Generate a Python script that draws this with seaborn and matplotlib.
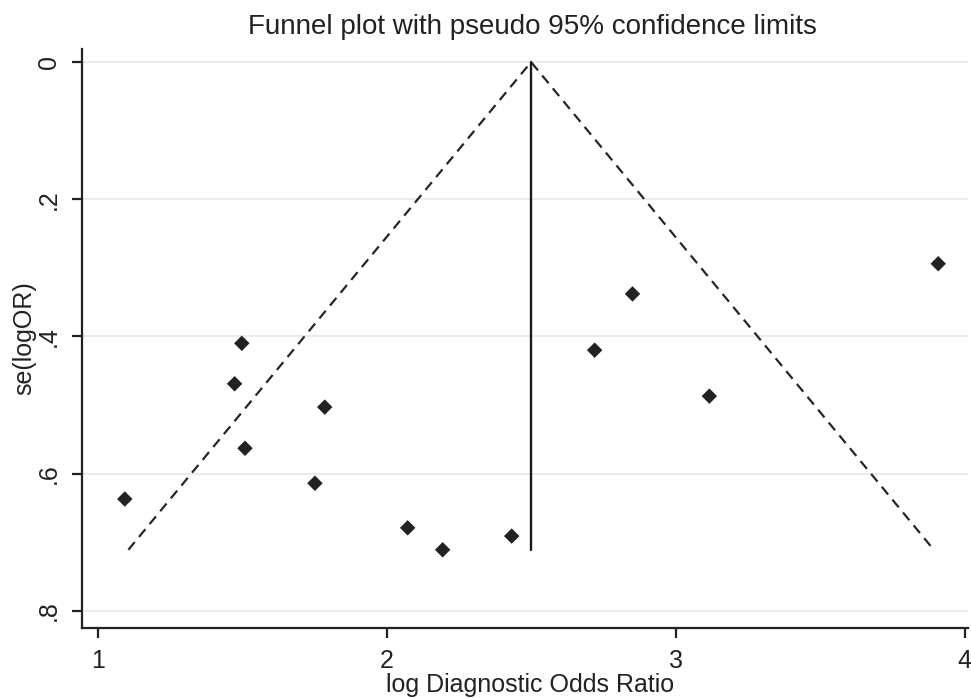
import numpy as np
import pandas as pd
import matplotlib
matplotlib.use("Agg")
import matplotlib.pyplot as plt
import seaborn as sns

# Study estimates (log DOR) and standard errors
log_dor = [1.094, 1.499, 1.474, 1.786, 1.510, 1.752, 2.073, 2.194, 2.433,
           2.720, 2.851, 3.117, 3.909]
se_log_or = [0.637, 0.410, 0.469, 0.503, 0.563, 0.614, 0.679, 0.711, 0.691,
             0.420, 0.338, 0.487, 0.294]
pooled = 2.50
z95 = 1.96
x_ticks = [1, 2, 3, 4]
y_ticks = [0, 0.2, 0.4, 0.6, 0.8]
y_ticklabels = ["0", ".2", ".4", ".6", ".8"]

df = pd.DataFrame({"x": log_dor, "se": se_log_or})
max_se = max(se_log_or)

sns.set_theme(style="white")
plt.rcParams["font.family"] = ["Liberation Sans", "DejaVu Sans"]

fig = plt.figure(figsize=(9.71, 6.98), dpi=100)
ax = fig.add_axes([82/971, 70/698, 886/971, 579/698])

# grid
for yt in y_ticks:
    ax.axhline(yt, color="#e8e8e8", lw=1.2, zorder=0)

# funnel limits
ax.plot([pooled - z95*max_se, pooled, pooled + z95*max_se], [max_se, 0, max_se],
        color="#262626", lw=1.6, dashes=(4.5, 3), zorder=2)
ax.plot([pooled, pooled], [0, max_se], color="#1a1a1a", lw=1.7, zorder=2)

sns.scatterplot(data=df, x="x", y="se", marker="D", s=62, color="#222222",
                edgecolor="none", ax=ax, zorder=3)

ax.set_xlim(0.946, 4.012)
ax.set_ylim(0.825, -0.019)

ax.set_xticks(x_ticks)
ax.set_xticklabels([str(t) for t in x_ticks])
ax.set_yticks(y_ticks)
ax.set_yticklabels(y_ticklabels, rotation=90, va="center")

for s in ["top", "right"]:
    ax.spines[s].set_visible(False)
for s in ["left", "bottom"]:
    ax.spines[s].set_color("#222222")
    ax.spines[s].set_linewidth(1.6)

ax.tick_params(axis="both", which="major", direction="out", length=7, width=1.6,
               color="#222222", labelsize=18, labelcolor="#222222", pad=8,
               left=True, bottom=True)

ax.set_xlabel("log Diagnostic Odds Ratio", fontsize=18, color="#222222")
ax.set_ylabel("se(logOR)", fontsize=18, color="#222222")
ax.xaxis.set_label_coords((530-82)/886, (628-673)/579)
ax.yaxis.set_label_coords((36-82)/886, 0.5)

fig.text(532/971, (698-27)/698, "Funnel plot with pseudo 95% confidence limits",
         ha="center", va="center", fontsize=20, color="#222222")

fig.savefig("out.png", dpi=100, facecolor="white")
